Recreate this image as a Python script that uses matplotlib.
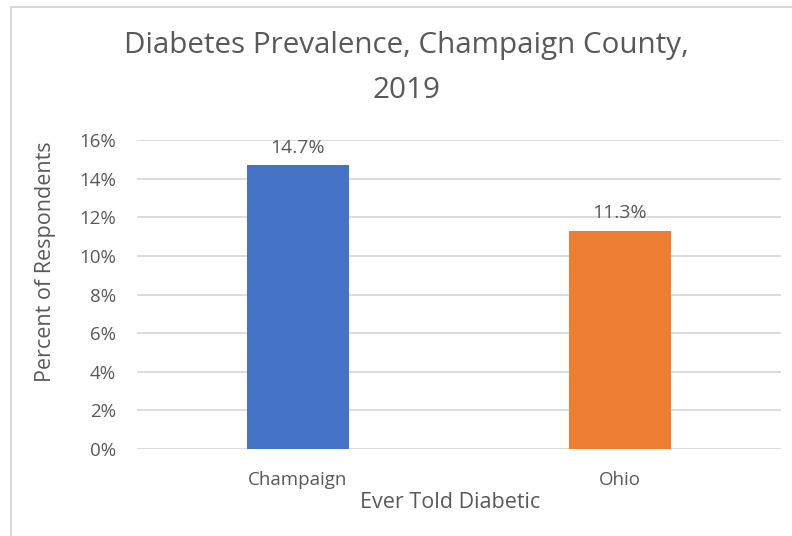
import matplotlib.pyplot as plt
from matplotlib.ticker import PercentFormatter
from matplotlib.lines import Line2D

categories = ["Champaign", "Ohio"]
values = [14.7, 11.3]
colors = ["#4472C4", "#ED7D31"]
yticks = [0, 2, 4, 6, 8, 10, 12, 14, 16]

plt.rcParams["font.family"] = ["Open Sans", "DejaVu Sans"]
text_color = "#595959"
grid_color = "#D9D9D9"

fig = plt.figure(figsize=(7.92, 5.36), dpi=100)
ax = fig.add_axes([137 / 792, 1 - 449 / 536, 644 / 792, 309 / 536])

x = range(len(categories))
bars = ax.bar(x, values, width=0.317, color=colors, zorder=3)
for bar, v in zip(bars, values):
    ax.annotate(f"{v:.1f}%", (bar.get_x() + bar.get_width() / 2, v),
                xytext=(0, 6), textcoords="offset points",
                ha="center", va="bottom", fontsize=14, color=text_color)

ax.set_xlim(-0.5, len(categories) - 0.5)
ax.set_ylim(0, 16)
ax.set_yticks(yticks)
ax.yaxis.set_major_formatter(PercentFormatter(decimals=0))
ax.set_xticks(list(x))
ax.set_xticklabels(categories)
ax.tick_params(axis="both", length=0, labelsize=13.5, labelcolor=text_color)
ax.tick_params(axis="y", pad=15)
ax.tick_params(axis="x", pad=16)
ax.grid(axis="y", color=grid_color, linewidth=1.3, zorder=0)
for s in ax.spines.values():
    s.set_visible(False)

ax.set_ylabel("Percent of Respondents", fontsize=15.5, color=text_color)
ax.set_xlabel("Ever Told Diabetic", fontsize=15.5, color=text_color)
ax.yaxis.set_label_coords(-(137 - 46) / 644, (449 - 262) / 309)
ax.xaxis.set_label_coords(0.486, -(503 - 449) / 309)
ax.xaxis.label.set_va("center")
ax.yaxis.label.set_va("center")

fig.text(406 / 792, 1 - 45 / 536, "Diabetes Prevalence, Champaign County,",
         ha="center", va="center", fontsize=21.3, color=text_color)
fig.text(406 / 792, 1 - 91 / 536, "2019",
         ha="center", va="center", fontsize=21.3, color=text_color)

# chart frame (left and top edges)
fig.add_artist(Line2D([11 / 792, 11 / 792], [0, 1 - 7 / 536],
                      transform=fig.transFigure, color=grid_color, linewidth=1.5))
fig.add_artist(Line2D([11 / 792, 1], [1 - 7 / 536, 1 - 7 / 536],
                      transform=fig.transFigure, color=grid_color, linewidth=1.5))

fig.savefig("out.png", dpi=100)
